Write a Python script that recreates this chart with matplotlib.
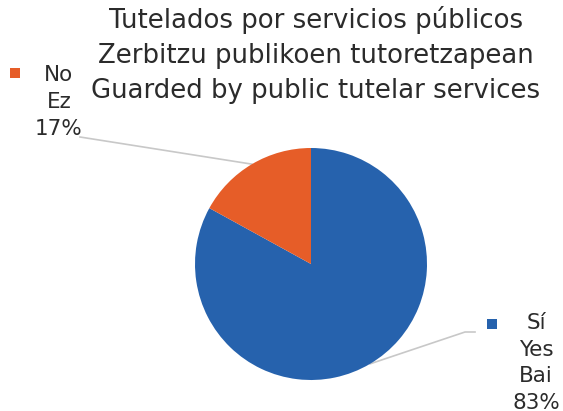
import numpy as np
import matplotlib.pyplot as plt

## data
labels = ["Sí\nYes\nBai", "No\nEz"]
shares = [83, 17]
colors = ["#2662ad", "#e65d28"]
title = ("Tutelados por servicios públicos\n"
         "Zerbitzu publikoen tutoretzapean\n"
         "Guarded by public tutelar services")

## figure (axes = whole canvas, 1 data unit = 1 px)
W, H = 563, 411
fig = plt.figure(figsize=(W / 100, H / 100), dpi=100)
ax = fig.add_axes([0, 0, 1, 1])

cx, cy, r = 311, H - 264, 116
wedges, _ = ax.pie(shares, colors=colors, startangle=90, counterclock=False,
                   center=(cx, cy), radius=r, frame=True)
ax.set_xlim(0, W)
ax.set_ylim(0, H)
ax.set_aspect("equal")
ax.axis("off")

ax.text(316, H - 55, title, ha="center", va="center", fontsize=18.7,
        color="#2b2b2b", linespacing=1.47)

# data labels with leader lines
lab_pos = [(536, H - 363), (59, H - 102)]
line_end = [[(465, H - 332), (475, H - 332)], [(80, H - 137)]]
mark_pos = [(492, H - 324), (15, H - 73)]
ang = 90.0
for i, (lab, s) in enumerate(zip(labels, shares)):
    span = 360 * s / sum(shares)
    mid = np.deg2rad(ang - span / 2)
    ang -= span
    ex, ey = cx + r * np.cos(mid), cy + r * np.sin(mid)
    pts = [(ex, ey)] + line_end[i]
    ax.plot([p[0] for p in pts], [p[1] for p in pts], color="#c8c8c8",
            lw=1.2, zorder=0)
    ax.text(lab_pos[i][0], lab_pos[i][1], f"{lab}\n{s}%", ha="center",
            va="center", fontsize=15.5, color="#2b2b2b", linespacing=1.42)
    ax.scatter(*mark_pos[i], marker="s", s=52, color=colors[i], lw=0)

fig.savefig("out.png", dpi=100)
